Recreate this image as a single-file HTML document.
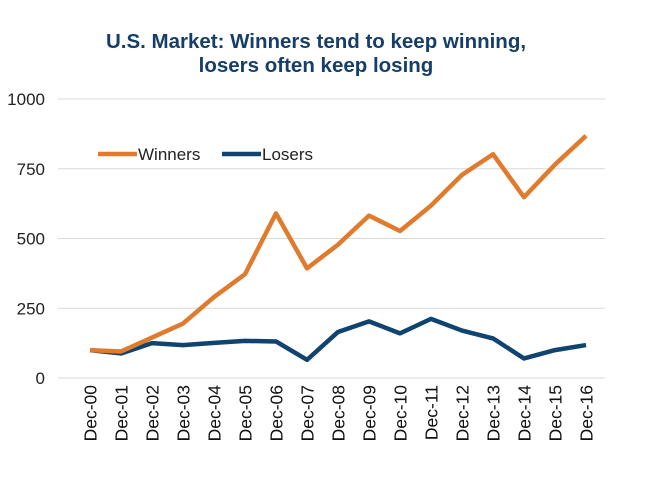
<!DOCTYPE html>
<html><head><meta charset="utf-8"><style>
body{margin:0;background:#fff;width:646px;height:478px;overflow:hidden;font-family:"Liberation Sans",Arial,sans-serif}
</style></head><body>
<svg id="chart" width="646" height="478" xmlns="http://www.w3.org/2000/svg">
<text x="316" y="48" text-anchor="middle" font-size="20.5" font-weight="bold" fill="#163e6a">U.S. Market: Winners tend to keep winning,</text>
<text x="316" y="72" text-anchor="middle" font-size="20.5" font-weight="bold" fill="#163e6a">losers often keep losing</text>
<g id="grid"></g><g id="xlabels"></g><g id="series"></g>
<g>
<line x1="98" y1="154" x2="137" y2="154" stroke="#e07b2e" stroke-width="4.5"/>
<text x="138" y="160" font-size="17" fill="#222">Winners</text>
<line x1="222" y1="154" x2="261" y2="154" stroke="#0f4370" stroke-width="4.5"/>
<text x="262" y="160" font-size="17" fill="#222">Losers</text>
</g>
</svg>
<script>
const categories=["Dec-00","Dec-01","Dec-02","Dec-03","Dec-04","Dec-05","Dec-06","Dec-07","Dec-08","Dec-09","Dec-10","Dec-11","Dec-12","Dec-13","Dec-14","Dec-15","Dec-16"];
const winners=[100,95,145,195,290,372,590,393,478,582,527,618,728,802,648,765,868];
const losers=[100,88,125,118,126,133,131,65,165,203,160,212,170,142,70,100,118];
const yTicks=[0,250,500,750,1000];
const NS="http://www.w3.org/2000/svg";
const x=i=>90+i*(586-90)/(categories.length-1);
const y=v=>378-v*(378-99)/1000;
const grid=document.getElementById('grid');
yTicks.forEach(t=>{
 const l=document.createElementNS(NS,'line');
 
 
 l.setAttribute('x1',58);l.setAttribute('x2',605);l.setAttribute('y1',y(t));l.setAttribute('y2',y(t));
 l.setAttribute('stroke','#d9d9d9');l.setAttribute('stroke-width','1');grid.appendChild(l);
 const tx=document.createElementNS(NS,'text');
 
 
 tx.setAttribute('x',45);tx.setAttribute('y',y(t)+6);tx.setAttribute('text-anchor','end');
 tx.setAttribute('font-size','17');tx.setAttribute('fill','#222');tx.textContent=t;grid.appendChild(tx);
});
const xl=document.getElementById('xlabels');
categories.forEach((c,i)=>{
 const tx=document.createElementNS(NS,'text');
 
 
 tx.setAttribute('transform','translate('+(x(i)+6.5)+',385) rotate(-90)');
 tx.setAttribute('text-anchor','end');tx.setAttribute('font-size','17.5');tx.setAttribute('fill','#111');
 tx.textContent=c;xl.appendChild(tx);
});
const sg=document.getElementById('series');
[[losers,'#0f4370','losers-line'],[winners,'#e07b2e','winners-line']].forEach(([d,col,n])=>{
 const p=document.createElementNS(NS,'polyline');
 
 
 p.setAttribute('points',d.map((v,i)=>x(i)+','+y(v)).join(' '));
 p.setAttribute('fill','none');p.setAttribute('stroke',col);p.setAttribute('stroke-width','4.5');
 p.setAttribute('stroke-linejoin','round');sg.appendChild(p);
});
</script>
</body></html>
